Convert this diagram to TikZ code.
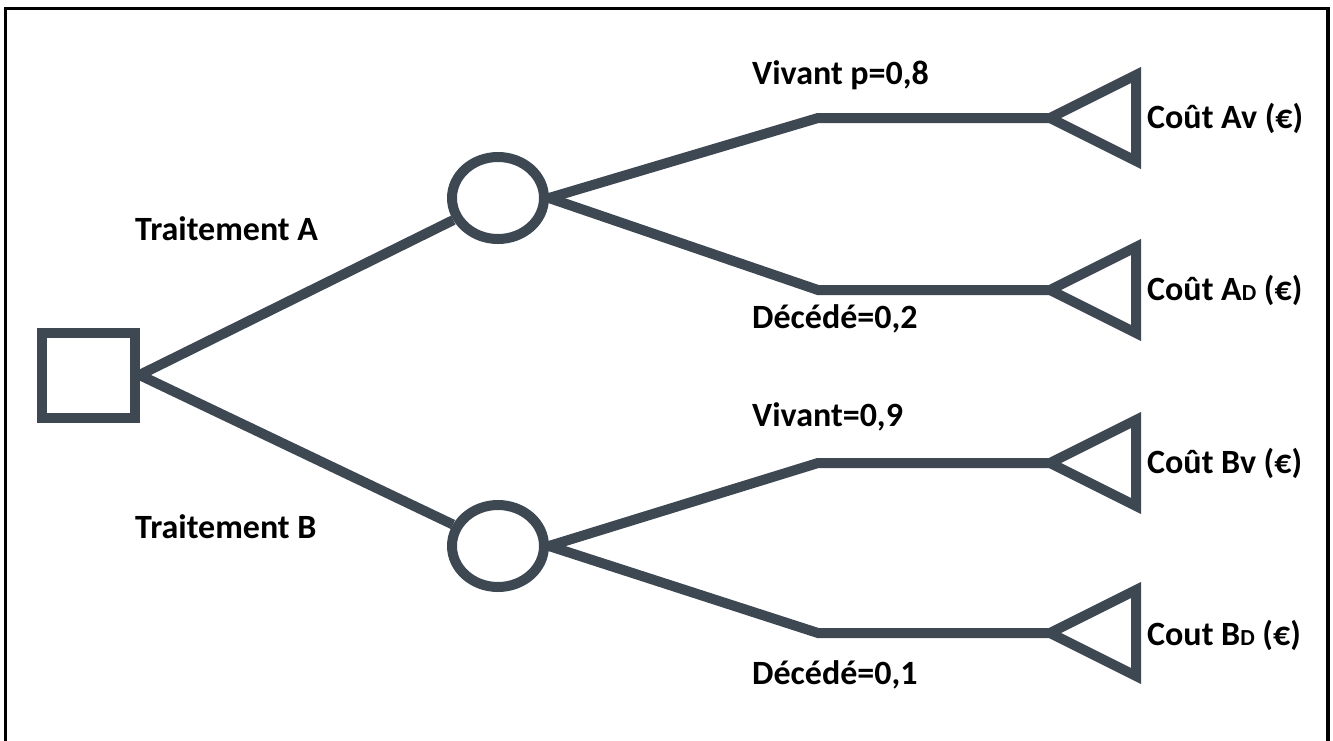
\documentclass[tikz,border=0pt]{standalone}
\usepackage{fontspec}
\setmainfont{Carlito}
\usetikzlibrary{shapes.geometric}
\definecolor{treeline}{HTML}{3D4853}
\begin{document}
\begin{tikzpicture}[x=1pt,y=-1pt,
  branch/.style={draw=treeline,line width=10pt,line join=miter},
  lbl/.style={anchor=base west,inner sep=0pt,font=\fontsize{34}{38}\selectfont\bfseries,text=black},
  ]
\useasboundingbox (0,0) rectangle (1333,740);
\begin{scope}
\clip (0,0) rectangle (1333,740);
\draw[line width=3.5pt,black] (5.5,760) -- (5.5,8.5) -- (1328,8.5) -- (1328,760);
\end{scope}
% decision node
\node[draw=treeline,line width=10pt,rectangle,minimum width=93pt,minimum height=85pt,inner sep=0pt] (sq) at (88,375) {};
% chance nodes
\node[draw=treeline,line width=10pt,ellipse,minimum width=92pt,minimum height=82pt,inner sep=0pt] (ca) at (498,198) {};
\node[draw=treeline,line width=10pt,ellipse,minimum width=92pt,minimum height=82pt,inner sep=0pt] (cb) at (498,546) {};
% bend and apex coordinates
\coordinate (kav) at (818,118);  \coordinate (tav) at (1050,118);
\coordinate (kad) at (818,290);  \coordinate (tad) at (1050,290);
\coordinate (kbv) at (818,463);  \coordinate (tbv) at (1050,463);
\coordinate (kbd) at (818,633);  \coordinate (tbd) at (1050,633);
% connectors
\draw[branch] (sq.east) -- (ca);
\draw[branch] (sq.east) -- (cb);
\draw[branch] (ca.east) -- (kav) -- (tav);
\draw[branch] (ca.east) -- (kad) -- (tad);
\draw[branch] (cb.east) -- (kbv) -- (tbv);
\draw[branch] (cb.east) -- (kbd) -- (tbd);
% terminal triangles
\foreach \t in {tav,tad,tbv,tbd}{
  \draw[branch] (\t) -- ++(86,-43) -- ++(0,86) -- cycle;
}
% labels
\node[lbl] (ltA) at (135,240) {Traitement A};
\node[lbl] (ltB) at (135,538) {Traitement B};
\node[lbl] (lav) at (752,84) {Vivant p=0,8};
\node[lbl] (lad) at (752,328) {Décédé=0,2};
\node[lbl] (lbv) at (752,426) {Vivant=0,9};
\node[lbl] (lbd) at (752,684) {Décédé=0,1};
\node[lbl] (cav) at (1147,128) {Coût Av (€)};
\node[lbl] (cad) at (1147,300) {Coût A{\fontsize{23}{23}\selectfont D} (€)};
\node[lbl] (cbv) at (1147,473) {Coût Bv (€)};
\node[lbl] (cbd) at (1147,645) {Cout B{\fontsize{23}{23}\selectfont D} (€)};
\end{tikzpicture}
\end{document}
